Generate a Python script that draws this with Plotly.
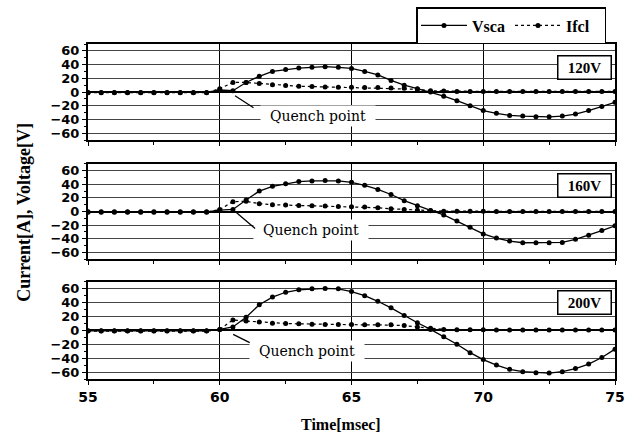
import plotly.graph_objects as go

time_ms = [55, 55.5, 56, 56.5, 57, 57.5, 58, 58.5, 59, 59.5,
           60, 60.5, 61, 61.5, 62, 62.5, 63, 63.5, 64, 64.5,
           65, 65.5, 66, 66.5, 67, 67.5, 68, 68.5, 69, 69.5,
           70, 70.5, 71, 71.5, 72, 72.5, 73, 73.5, 74, 74.5, 75]

pre = [-0.5] * 10
pre_i = [-1] * 10

vsca_120 = pre + [3, 2, 14, 23, 30, 33, 35, 36, 37, 36,
                  34.5, 30, 25, 17, 10, 5, 0, -6, -12.5, -20,
                  -27, -31, -34, -35, -36, -36, -35, -32, -27, -21, -15]
ifcl_120 = pre_i + [5, 14, 14, 12.5, 10.5, 9.5, 8.5, 8, 7.5, 7,
                    7, 6.5, 6.5, 6, 5.5, 4, 2, 1.5, 1, 1,
                    1, 1, 1, 1, 1, 1, 1, 1, 1, 1, 1]

vsca_160 = pre + [2, 3, 17, 30, 37, 41, 44, 45, 45.5, 45,
                  43, 38.5, 32.5, 25, 16, 8.5, 1.5, -5, -14, -23,
                  -33, -39, -43.5, -46, -46, -46, -45.5, -41, -35, -28, -21]
ifcl_160 = pre_i + [3, 14.5, 15, 11.5, 10, 9.5, 9, 8.5, 8, 7.5,
                    7, 6.5, 5.5, 4, 3, 2, 1, 0.5, 0.5, 0.5,
                    0.5, 0, 0, 0, 0, 0, 0, 0, 0, 0, 0]

vsca_200 = pre + [1.5, 5, 19, 37, 48, 55, 58.5, 60, 60.5, 60,
                  56, 50, 42, 32.5, 21.5, 11, 1.5, -9, -20, -32,
                  -42, -50, -56, -59.5, -61, -61.5, -59.5, -55, -48.5, -39, -27]
ifcl_200 = pre_i + [1.5, 15, 13.5, 12, 10.5, 10, 9.5, 9, 8.5, 8.5,
                    8.5, 8, 8, 8, 7, 5, 3, 1.5, 1, 1,
                    1, 0.5, 0.5, 0.5, 0.5, 0.5, 0.5, 0.5, 0.5, 0.5, 0.5]

panel_labels = ["120V", "160V", "200V"]
x_ticks = [55, 60, 65, 70, 75]
y_ticks = [-60, -40, -20, 0, 20, 40, 60]

panels = [(vsca_120, ifcl_120), (vsca_160, ifcl_160), (vsca_200, ifcl_200)]
domains = [[0.713, 1.0], [0.358, 0.642], [0.0, 0.290]]
label_tops = [0.885, 0.905, 0.918]
quench_text = [(63.73, -34.8), (63.46, -27.0), (63.31, -29.6)]
quench_tip = [(60.58, -5.4, 20, 13), (60.64, -1.9, 20, 17), (60.51, -5.7, 18, 9)]

fig = go.Figure()
serif = "Liberation Serif"
sans = "DejaVu Sans"

for i, (v, c) in enumerate(panels):
    xa = "x" if i == 0 else f"x{i+1}"
    ya = "y" if i == 0 else f"y{i+1}"
    fig.add_trace(go.Scatter(
        x=time_ms, y=v, xaxis=xa, yaxis=ya, mode="lines+markers",
        name="<b>Vsca</b>", legendgroup="v", showlegend=(i == 0),
        line=dict(color="black", width=1.3),
        marker=dict(color="black", size=5)))
    fig.add_trace(go.Scatter(
        x=time_ms, y=c, xaxis=xa, yaxis=ya, mode="lines+markers",
        name="<b>Ifcl</b>", legendgroup="i", showlegend=(i == 0),
        line=dict(color="black", width=1.2, dash="dot"),
        marker=dict(color="black", size=5)))

layout = dict(
    template="none",
    width=632, height=436,
    margin=dict(l=88, r=17, t=44, b=57),
    paper_bgcolor="white", plot_bgcolor="white",
    legend=dict(orientation="h", xref="container", yref="container",
                x=606 / 632, xanchor="right", y=1 - 7 / 436, yanchor="top",
                itemwidth=46, entrywidth=33, entrywidthmode="pixels",
                bordercolor="black", borderwidth=1.5, bgcolor="white",
                font=dict(family=serif, size=16, color="black")),
)

for i in range(3):
    sx = "" if i == 0 else str(i + 1)
    layout[f"xaxis{sx}"] = dict(
        domain=[0, 1], anchor=f"y{sx}", range=[55, 75], automargin=False,
        tickvals=x_ticks, showticklabels=(i == 2),
        tickfont=dict(family=sans, size=14, color="black", weight="bold"),
        ticks="outside", ticklen=4, tickcolor="black",
        minor=dict(dtick=2.5, ticks="outside", ticklen=3, tickcolor="black", showgrid=False),
        showgrid=True, gridcolor="black", gridwidth=1.2,
        showline=True, linecolor="black", linewidth=2, mirror=True,
        zeroline=False)
    layout[f"yaxis{sx}"] = dict(
        domain=domains[i], anchor=f"x{sx}", range=[-70, 70], automargin=False,
        tickvals=y_ticks,
        tickfont=dict(family=sans, size=13, color="black", weight="bold"),
        ticks="outside", ticklen=4, tickcolor="black",
        minor=dict(dtick=10, ticks="outside", ticklen=2, tickcolor="black", showgrid=False),
        showgrid=True, gridcolor="#444", gridwidth=1,
        showline=True, linecolor="black", linewidth=2, mirror=True,
        zeroline=True, zerolinecolor="black", zerolinewidth=2)

fig.update_layout(**layout)

annotations = []
for i in range(3):
    sx = "" if i == 0 else str(i + 1)
    annotations.append(dict(
        xref=f"x{sx} domain", yref=f"y{sx} domain", x=0.994, y=label_tops[i],
        xanchor="right", yanchor="top", text=f"<b>{panel_labels[i]}</b>",
        showarrow=False, bgcolor="white", bordercolor="black", borderwidth=1.5,
        width=50, height=20,
        font=dict(family=serif, size=15, color="black")))
    tx, ty = quench_text[i]
    annotations.append(dict(
        xref=f"x{sx}", yref=f"y{sx}", x=tx, y=ty, text="Quench point",
        showarrow=False, bgcolor="white", width=112, height=18,
        font=dict(family="DejaVu Serif", size=14, color="black")))
    px, py, axo, ayo = quench_tip[i]
    annotations.append(dict(
        xref=f"x{sx}", yref=f"y{sx}", x=px, y=py, text="",
        showarrow=True, arrowhead=0, arrowwidth=1.3, arrowcolor="black",
        ax=axo, ay=ayo))

annotations.append(dict(
    xref="paper", yref="paper", x=0.481, y=-0.137, text="<b>Time[msec]</b>",
    showarrow=False, xanchor="center", yanchor="middle",
    font=dict(family=serif, size=16, color="black")))
annotations.append(dict(
    xref="paper", yref="paper", x=-0.123, y=0.497, text="<b>Current[A], Voltage[V]</b>",
    showarrow=False, xanchor="center", yanchor="middle", textangle=-90,
    font=dict(family=serif, size=18, color="black")))

fig.update_layout(annotations=annotations)
fig.write_html("out.html", config={"displayModeBar": False},
               post_script="document.body.style.margin='0';document.body.style.padding='0';")
